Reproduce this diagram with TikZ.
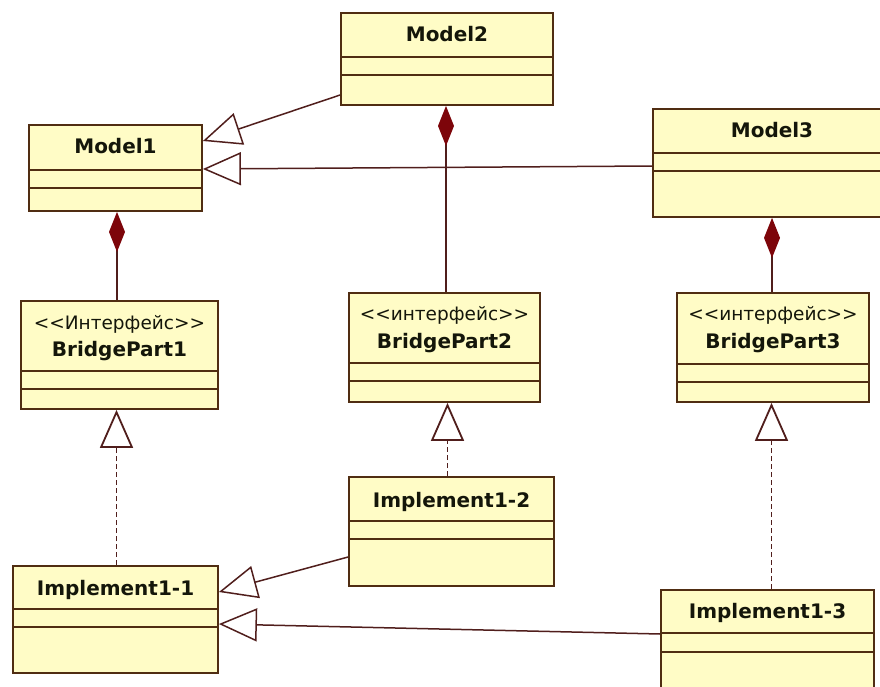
\documentclass[tikz,border=0pt]{standalone}
\usepackage{fontspec}
\setmainfont{DejaVu Sans}[Ligatures=TeXOff]
\usetikzlibrary{arrows.meta,fit,calc}
\definecolor{boxfill}{RGB}{255,252,198}
\definecolor{boxdraw}{RGB}{80,45,18}
\definecolor{conn}{RGB}{80,30,28}
\definecolor{diam}{RGB}{125,5,10}
\definecolor{txt}{RGB}{20,22,10}
\tikzset{
 clsbox/.style={draw=boxdraw, fill=boxfill, line width=1.8pt, inner sep=0pt},
 clsline/.style={draw=boxdraw, line width=1.8pt},
 clsname/.style={font=\fontsize{20}{23}\selectfont\bfseries, text=txt, inner sep=0pt, anchor=base},
 stereo/.style={font=\fontsize{18.5}{21}\selectfont, text=txt, inner sep=0pt, anchor=base},
 gen/.style={draw=conn, line width=1.5pt, -{Triangle[fill=white, length=38pt, width=33pt]}},
 real/.style={gen, line width=1.8pt, dash pattern=on 5pt off 3pt},
 comp/.style={draw=conn, line width=1.5pt, {Diamond[fill=diam, color=diam, length=40pt, width=16pt]}-},
}
\newcommand{\umlcls}[7]{%
  \node[clsbox, fit={(#2,#3) (#4,#5)}] (#1) {};
  \draw[clsline] (#2,#6) -- (#4,#6) (#2,#7) -- (#4,#7);
}
\begin{document}
\begin{tikzpicture}[x=1pt,y=-1pt]
\path[use as bounding box] (0,0) rectangle (880,687);
\clip (0,0) rectangle (880,687);
\fill[white] (0,0) rectangle (880,687);

\umlcls{m2}{341}{13}{553}{105}{57}{75}
\umlcls{m1}{29}{125}{202}{211}{170}{188}
\umlcls{m3}{653}{109}{891}{217}{153}{171}
\umlcls{bp1}{21}{301}{218}{409}{371}{389}
\umlcls{bp2}{349}{293}{540}{402}{363}{381}
\umlcls{bp3}{677}{293}{869}{402}{364}{382}
\umlcls{i12}{349}{477}{554}{586}{521}{539}
\umlcls{i11}{13}{566}{218}{673}{609}{627}
\umlcls{i13}{661}{590}{874}{697}{633}{652}

\node[clsname] (m2t) at (447,42) {Model2};
\node[clsname] (m1t) at (115.5,154) {Model1};
\node[clsname] (m3t) at (772,138) {Model3};
\node[stereo] (bp1s) at (119.5,329) {<<Интерфейс>>};
\node[clsname] (bp1t) at (119.5,356) {BridgePart1};
\node[stereo] (bp2s) at (444.5,320) {<<интерфейс>>};
\node[clsname] (bp2t) at (444.5,348) {BridgePart2};
\node[stereo] (bp3s) at (773,320) {<<интерфейс>>};
\node[clsname] (bp3t) at (773,348) {BridgePart3};
\node[clsname] (i12t) at (451.5,507) {Implement1-2};
\node[clsname] (i11t) at (115.5,595) {Implement1-1};
\node[clsname] (i13t) at (767.5,618) {Implement1-3};

\draw[gen] ([yshift=-36pt]m2.west) -- ([yshift=27pt]m1.east);
\draw[gen] ([yshift=-3pt]m3.west) -- ([yshift=-1pt]m1.east);
\draw[comp] ([xshift=1.5pt]m1.south) -- ([xshift=1.5pt]m1.south |- bp1.north);
\draw[comp] ([xshift=-1pt]m2.south) -- ([xshift=-1pt]m2.south |- bp2.north);
\draw[comp] (m3.south) -- (m3.south |- bp3.north);
\draw[real] ([xshift=1pt]i11.north) -- ([xshift=1pt]i11.north |- bp1.south);
\draw[real] ([xshift=-4pt]i12.north) -- ([xshift=-4pt]i12.north |- bp2.south);
\draw[real] ([xshift=4pt]i13.north) -- ([xshift=4pt]i13.north |- bp3.south);
\draw[gen] ([yshift=-25.5pt]i12.west) -- ([yshift=27.5pt]i11.east);
\draw[gen] ([yshift=9.5pt]i13.west) -- ([yshift=-4.5pt]i11.east);
\end{tikzpicture}
\end{document}
